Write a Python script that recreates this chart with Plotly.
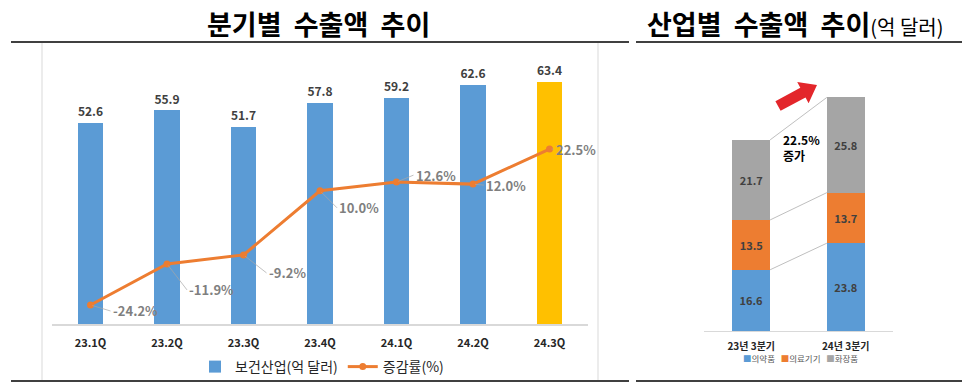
import math
import plotly.graph_objects as go

# ---------------- data ----------------
quarters = ["23.1Q", "23.2Q", "23.3Q", "23.4Q", "24.1Q", "24.2Q", "24.3Q"]
exports = [52.6, 55.9, 51.7, 57.8, 59.2, 62.6, 63.4]          # 보건산업(억 달러)
growth = [-24.2, -11.9, -9.2, 10.0, 12.6, 12.0, 22.5]          # 증감률(%)

periods = ["23년 3분기", "24년 3분기"]
pharma = [16.6, 23.8]      # 의약품
devices = [13.5, 13.7]     # 의료기기
cosmetics = [21.7, 25.8]   # 화장품

# ---------------- styling / layout helpers ----------------
W, H = 971, 392
FONT = "Noto Sans CJK KR"
def px(x):
    return x / W
def py(y):
    return 1 - y / H

bar_colors = ["#5B9BD5"] * 6 + ["#FFC000"]
label_offsets = [(20, 6), (20, 26), (23, 18), (17, 17), (17, -7), (11, 1), (4, 0)]
seg_colors = ["#5B9BD5", "#ED7D31", "#A5A5A5"]

fig = go.Figure()

fig.add_trace(go.Bar(
    x=quarters, y=exports, name="보건산업(억 달러)",
    marker=dict(color=bar_colors, line=dict(width=0)),
    width=0.33,
    text=exports, texttemplate="<b>%{y:.1f}</b>", textposition="outside",
    textfont=dict(size=16, color="#404040", family=FONT),
    cliponaxis=False, xaxis="x", yaxis="y",
))
fig.add_trace(go.Scatter(
    x=quarters, y=growth, name="증감률(%)", mode="lines+markers",
    line=dict(color="#ED7D31", width=3),
    marker=dict(size=7, color="#ED7D31"),
    xaxis="x", yaxis="y2",
))

for q, g, (dx, dy) in zip(quarters, growth, label_offsets):
    fig.add_annotation(
        x=q, y=g, xref="x", yref="y2", text=f"<b>{g:.1f}%</b>",
        showarrow=True, ax=dx, ay=dy, arrowhead=0, arrowwidth=0.7,
        arrowcolor="#A6A6A6", standoff=2, xanchor="left", yanchor="middle",
        font=dict(size=13, color="#7F7F7F", family=FONT),
    )

# right stacked chart
for vals, nm, col in [(pharma, "의약품", seg_colors[0]),
                      (devices, "의료기기", seg_colors[1]),
                      (cosmetics, "화장품", seg_colors[2])]:
    fig.add_trace(go.Bar(
        x=periods, y=vals, name=nm, width=0.40, showlegend=False,
        marker=dict(color=col, line=dict(width=0)),
        text=vals, texttemplate="<b>%{y:.1f}</b>", textposition="inside",
        insidetextanchor="middle", textangle=0,
        textfont=dict(size=11, color="#404040", family=FONT),
        xaxis="x2", yaxis="y3",
    ))

# connecting lines between stacked bars
cum1 = [pharma[0], pharma[0] + devices[0], pharma[0] + devices[0] + cosmetics[0]]
cum2 = [pharma[1], pharma[1] + devices[1], pharma[1] + devices[1] + cosmetics[1]]
for a, b in zip(cum1, cum2):
    fig.add_shape(type="line", xref="x2", yref="y3", x0=0.2, y0=a, x1=0.8, y1=b,
                  line=dict(color="#BFBFBF", width=1))

# red arrow
T = (778, 106); Hh = (817, 85)
dxa, dya = Hh[0] - T[0], Hh[1] - T[1]
L = math.hypot(dxa, dya)
ux, uy = dxa / L, dya / L
nx, ny = -uy, ux
B = (Hh[0] - 16 * ux, Hh[1] - 16 * uy)
pts = [
    (T[0] + 5.5 * nx, T[1] + 5.5 * ny), (B[0] + 5.5 * nx, B[1] + 5.5 * ny),
    (B[0] + 12 * nx, B[1] + 12 * ny), Hh,
    (B[0] - 12 * nx, B[1] - 12 * ny), (B[0] - 5.5 * nx, B[1] - 5.5 * ny),
    (T[0] - 5.5 * nx, T[1] - 5.5 * ny),
]
path = "M " + " L ".join(f"{px(x):.5f},{py(y):.5f}" for x, y in pts) + " Z"
fig.add_shape(type="path", xref="paper", yref="paper", path=path,
              fillcolor="#E3262B", line=dict(width=0))

fig.add_annotation(xref="paper", yref="paper", x=px(781), y=py(147),
                   text="<b>22.5%<br>증가</b>", showarrow=False, align="left",
                   xanchor="left", yanchor="middle",
                   font=dict(size=12, color="#000000", family=FONT))

# right legend (manual)
legend_txt = "   ".join(
    f"<span style='color:{c}'>■</span>{n}" for c, n in zip(seg_colors, ["의약품", "의료기기", "화장품"])
)
fig.add_annotation(xref="paper", yref="paper", x=px(800), y=py(358),
                   text=legend_txt, showarrow=False, xanchor="center", yanchor="middle",
                   font=dict(size=8.5, color="#595959", family=FONT))

# titles
fig.add_annotation(xref="paper", yref="paper", x=px(318), y=py(24),
                   text="<b>분기별  수출액  추이</b>", showarrow=False,
                   xanchor="center", yanchor="middle",
                   font=dict(size=27, color="#000000", family=FONT))
fig.add_annotation(xref="paper", yref="paper", x=px(645), y=py(24),
                   text="<b>산업별  수출액  추이</b><span style='font-size:20px'>(억 달러)</span>",
                   showarrow=False, xanchor="left", yanchor="middle",
                   font=dict(size=27, color="#000000", family=FONT))

# frame lines
for x0, x1 in [(11, 629), (636, 962)]:
    fig.add_shape(type="line", xref="paper", yref="paper", x0=px(x0), x1=px(x1),
                  y0=py(42), y1=py(42), line=dict(color="#000000", width=1.5))
    fig.add_shape(type="line", xref="paper", yref="paper", x0=px(x0), x1=px(x1),
                  y0=py(381), y1=py(381), line=dict(color="#000000", width=1.5))
for xv in [42, 598]:
    fig.add_shape(type="line", xref="paper", yref="paper", x0=px(xv), x1=px(xv),
                  y0=py(43), y1=py(380), line=dict(color="#D9D9D9", width=1))

fig.update_layout(
    width=W, height=H, autosize=False,
    margin=dict(l=0, r=0, t=0, b=0),
    paper_bgcolor="white", plot_bgcolor="rgba(0,0,0,0)",
    barmode="stack", showlegend=True,
    font=dict(family=FONT),
    xaxis=dict(domain=[px(52.25), px(587.75)], range=[-0.5, 6.5], type="category",
               showline=True, linecolor="#D9D9D9", linewidth=1.5, showgrid=False,
               ticks="", ticklabelstandoff=8,
               tickfont=dict(size=11, color="#262626", family=FONT), tickprefix="<b>", ticksuffix="</b>"),
    yaxis=dict(domain=[py(324), py(56.6)], range=[0, 70], visible=False, showgrid=False),
    yaxis2=dict(overlaying="y", range=[-29.9, 50.2], visible=False, showgrid=False),
    xaxis2=dict(domain=[px(704), px(893)], range=[-0.5, 1.5], type="category",
                showline=True, linecolor="#D9D9D9", linewidth=1, showgrid=False,
                ticks="", ticklabelstandoff=6, anchor="y3",
                tickfont=dict(size=10, color="#262626", family=FONT), tickprefix="<b>", ticksuffix="</b>"),
    yaxis3=dict(domain=[py(331), py(72.7)], range=[0, 70], visible=False,
                showgrid=False, anchor="x2"),
    legend=dict(orientation="h", x=px(322), xanchor="center", y=py(367), yanchor="middle",
                font=dict(size=14, color="#262626", family=FONT), itemwidth=30,
                bgcolor="rgba(0,0,0,0)", traceorder="normal"),
)

fig.write_html("out.html", config={"displayModeBar": False},
               post_script="document.body.style.margin='0px';")
